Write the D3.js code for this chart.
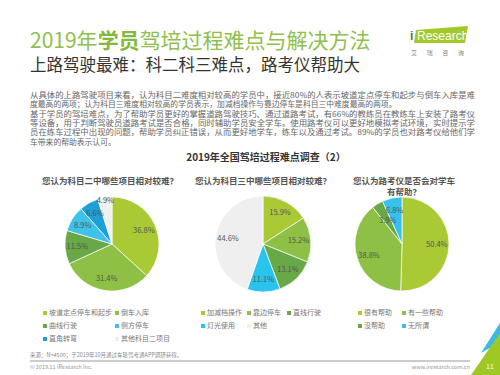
<!DOCTYPE html>
<html>
<head>
<meta charset="utf-8">
<script src="https://cdn.jsdelivr.net/npm/d3@7"></script>
<style>
  body { margin: 0; background: #fff; }
  svg { font-family: "Noto Sans CJK SC", "Noto Sans", sans-serif; }
</style>
</head>
<body>
<div id="chart"></div>
<script>
// data
const pie1Labels = ["坡道定点停车和起步", "倒车入库", "曲线行驶", "侧方停车", "直角转弯", "其他科目二项目"];
const pie1Values = [36.8, 31.4, 11.5, 8.9, 6.6, 4.9];
const pie2Labels = ["加减档操作", "靠边停车", "直线行驶", "灯光使用", "其他"];
const pie2Values = [15.9, 15.2, 13.1, 11.1, 44.6];
const pie3Labels = ["很有帮助", "有一些帮助", "没帮助", "无所谓"];
const pie3Values = [50.4, 38.8, 3.9, 6.8];

const pie1Colors = ["#a9c935", "#8dc044", "#69a846", "#3ec2ea", "#1d9fd8", "#efefef"];
const pie2Colors = ["#a9c935", "#8dc044", "#69a846", "#2ac3ee", "#efefef"];
const pie3Colors = ["#a9c935", "#8dc044", "#69a846", "#36c1ec"];

const paragraph = [
  "从具体的上路驾驶项目来看，认为科目二难度相对较高的学员中，接近80%的人表示坡道定点停车和起步与倒车入库是难",
  "度最高的两项；认为科目三难度相对较高的学员表示，加减档操作与靠边停车是科目三中难度最高的两项。",
  "基于学员的驾培难点，为了帮助学员更好的掌握道路驾驶技巧、通过道路考试，有66%的教练员在教练车上安装了路考仪",
  "等设备，用于判断驾驶员道路考试是否合格，同时辅助学员安全学车。使用路考仪可以更好地模拟考试环境，实时提示学",
  "员在练车过程中出现的问题，帮助学员纠正错误，从而更好地学车，练车以及通过考试。89%的学员也对路考仪给他们学",
  "车带来的帮助表示认可。"
];
const fullLines = [true, false, true, true, true, false];

const W = 500, H = 375;
const svg = d3.select("#chart").append("svg")
    .attr("width", W)
    .attr("height", H);

// page title
const title = svg.append("text")
    .attr("x", 30)
    .attr("y", 48)
    .attr("font-size", "21px")
    .attr("fill", "#8fbf4d");
title.append("tspan").text("2019年");
title.append("tspan").attr("font-weight", "bold").attr("fill", "#84b83c").text("学员");
title.append("tspan").text("驾培过程难点与解决方法");

svg.append("text")
    .attr("x", 30)
    .attr("y", 71)
    .attr("font-size", "16.5px")
    .attr("fill", "#333")
    .text("上路驾驶最难：科二科三难点，路考仪帮助大");

// logo
svg.append("polygon")
    .attr("points", "416,30 468,26 465,43 414,43")
    .attr("fill", "#a3c929");
svg.append("text")
    .attr("x", 410).attr("y", 40)
    .attr("font-family", "Liberation Sans, Arial")
    .attr("font-size", "12px")
    .attr("font-weight", "bold")
    .attr("fill", "#5a7f1a")
    .text("i");
svg.append("text")
    .attr("x", 417).attr("y", 40)
    .attr("font-family", "Liberation Sans, Arial")
    .attr("font-size", "12px")
    .attr("fill", "#fff")
    .text("Research");
svg.append("text")
    .attr("x", 411).attr("y", 55)
    .attr("font-size", "6px")
    .attr("fill", "#888")
    .attr("textLength", 53)
    .attr("lengthAdjust", "spacing")
    .text("艾瑞咨询");

// paragraph
svg.append("g").selectAll("text")
    .data(paragraph)
    .join("text")
    .attr("x", 30)
    .attr("y", (d, i) => 98 + i * 9.3)
    .attr("font-size", "7.8px")
    .attr("fill", "#666")
    .attr("textLength", (d, i) => fullLines[i] ? 445 : null)
    .attr("lengthAdjust", "spacingAndGlyphs")
    .text(d => d);

// chart title
svg.append("text")
    .attr("x", 266)
    .attr("y", 161)
    .attr("text-anchor", "middle")
    .attr("font-size", "10px")
    .attr("font-weight", "bold")
    .attr("fill", "#333")
    .text("2019年全国驾培过程难点调查（2）");

// sub titles
const subTitles = [
  {x: 110, lines: ["您认为科目二中哪些项目相对较难？"]},
  {x: 263, lines: ["您认为科目三中哪些项目相对较难？"]},
  {x: 404, lines: ["您认为路考仪是否会对学车", "有帮助？"]}
];
subTitles.forEach(s => {
  s.lines.forEach((l, i) => {
    svg.append("text")
        .attr("x", s.x)
        .attr("y", 184 + i * 11)
        .attr("text-anchor", "middle")
        .attr("font-size", "8.5px")
        .attr("font-weight", "bold")
        .attr("fill", "#555")
        .text(l);
  });
});

// pies
const pie = d3.pie().sort(null).value(d => d.value);

function drawPie(cx, cy, r, labels, values, colors, smallK) {
  const data = labels.map((l, i) => ({label: l, value: values[i], color: colors[i]}));
  const arc = d3.arc().innerRadius(0).outerRadius(r);
  const g = svg.append("g").attr("transform", `translate(${cx},${cy})`);
  const arcs = pie(data);
  g.selectAll("path")
      .data(arcs)
      .join("path")
      .attr("d", arc)
      .attr("fill", d => d.data.color)
      .attr("stroke", "#fff")
      .attr("stroke-width", 0.7);
  g.selectAll("text")
      .data(arcs)
      .join("text")
      .attr("transform", d => {
        // the smallest slice gets its label pulled in or pushed out
        const k = d.data.value < 5 ? smallK : 0.74;
        const la = d3.arc().innerRadius(r * k).outerRadius(r * k);
        return `translate(${la.centroid(d)})`;
      })
      .attr("text-anchor", "middle")
      .attr("dy", "0.35em")
      .attr("font-size", "7.5px")
      .attr("fill", "#555")
      .text(d => d.data.value.toFixed(1) + "%");
}

drawPie(112, 244, 47, pie1Labels, pie1Values, pie1Colors, 0.93);
drawPie(263, 244, 48, pie2Labels, pie2Values, pie2Colors, 0.74);
drawPie(402, 244, 47, pie3Labels, pie3Values, pie3Colors, 0.58);

// legends
function drawLegend(cols, labels, colors) {
  const g = svg.append("g");
  labels.forEach((l, i) => {
    const x = cols[i % cols.length];
    const y = 313 + Math.floor(i / cols.length) * 13;
    g.append("rect")
        .attr("x", x).attr("y", y - 2)
        .attr("width", 4).attr("height", 4)
        .attr("fill", colors[i]);
    g.append("text")
        .attr("x", x + 6).attr("y", y)
        .attr("dy", "0.35em")
        .attr("font-size", "7px")
        .attr("fill", "#777")
        .text(l);
  });
}
drawLegend([43, 115], pie1Labels, pie1Colors);
drawLegend([201, 247, 287], pie2Labels, pie2Colors);
drawLegend([358, 402], pie3Labels, pie3Colors);

// footer
svg.append("text")
    .attr("x", 30).attr("y", 357)
    .attr("font-size", "5.5px")
    .attr("fill", "#888")
    .text("来源：N=4500；于2019年10月通过车轮驾考通APP调研获得。");
svg.append("line")
    .attr("x1", 30).attr("x2", 470)
    .attr("y1", 361).attr("y2", 361)
    .attr("stroke", "#bbb")
    .attr("stroke-width", 1.5);
svg.append("text")
    .attr("x", 30).attr("y", 369)
    .attr("font-size", "5.5px")
    .attr("fill", "#999")
    .text("© 2019.11 iResearch Inc.");
svg.append("text")
    .attr("x", 470).attr("y", 369)
    .attr("text-anchor", "end")
    .attr("font-size", "5.5px")
    .attr("fill", "#999")
    .text("www.iresearch.com.cn");

// corner
svg.append("polygon")
    .attr("points", "481,353 500,323 500,342")
    .attr("fill", "#3cb7e6");
svg.append("polygon")
    .attr("points", "471,375 500,333 500,375")
    .attr("fill", "#9ec824");
svg.append("text")
    .attr("x", 490).attr("y", 369)
    .attr("text-anchor", "middle")
    .attr("font-size", "7px")
    .attr("fill", "#fff")
    .text("11");
</script>
</body>
</html>
